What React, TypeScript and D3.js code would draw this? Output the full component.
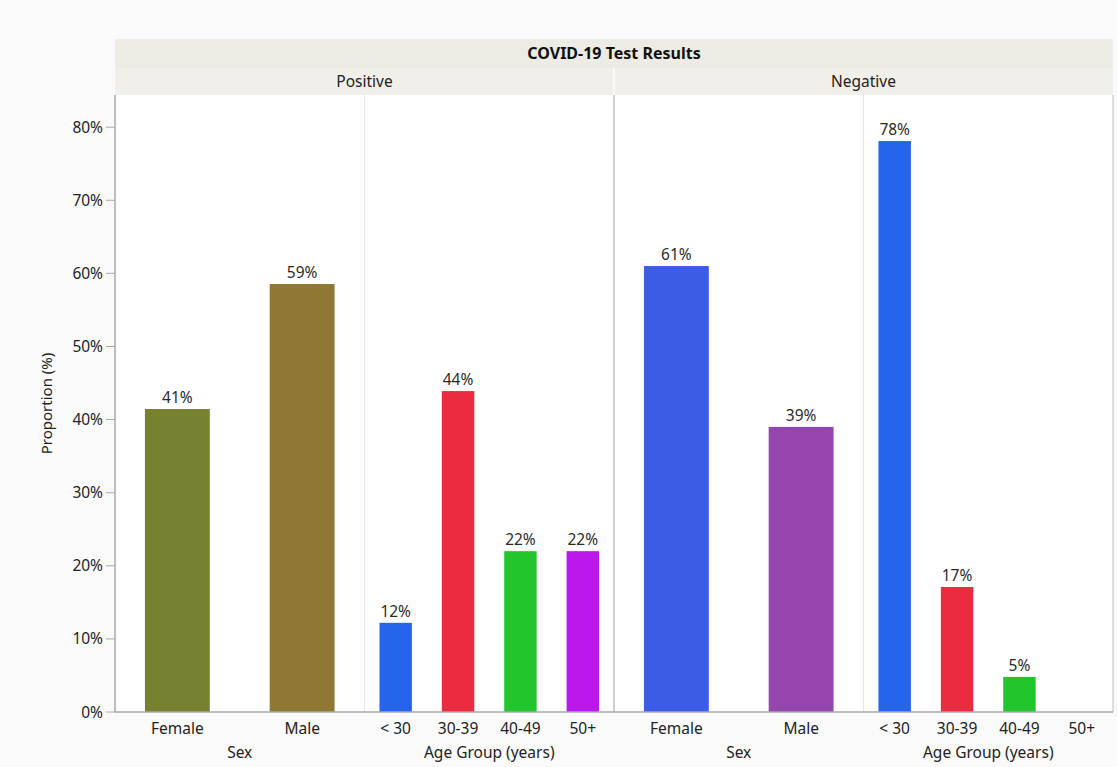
import React from 'react';
import * as d3 from 'd3';

// Chart values (percent of each result group)
const panels = ['Positive', 'Negative'];
const groups = ['Sex', 'Age Group (years)'];
const sexCats = ['Female', 'Male'];
const ageCats = ['< 30', '30-39', '40-49', '50+'];
const positiveSex = [41.45, 58.55];
const positiveAge = [12.2, 43.9, 22.0, 22.0];
const negativeSex = [61.0, 39.0];
const negativeAge = [78.1, 17.1, 4.8, 0];
const yTicks = [0, 10, 20, 30, 40, 50, 60, 70, 80];

const sexColors = [['#768230', '#8e7834'], ['#3b5ce4', '#9446ae']];
const ageColors = ['#2565ee', '#ea2b40', '#22c52c', '#bb18ee'];

const W = 1117;
const H = 767;
const plot = { left: 115, right: 1113, top: 95, bottom: 712 };
const font = '"Noto Sans", "Open Sans", sans-serif';

export default function App() {
  const x = d3.scaleBand<string>().domain(panels).range([plot.left, plot.right]);
  const g = d3.scaleBand<string>().domain(groups).range([0, x.bandwidth()]);
  const y = d3.scaleLinear().domain([0, 84.4]).range([plot.bottom, plot.top]);

  const sexX = d3.scaleBand<string>().domain(sexCats).range([0, g.bandwidth()]).paddingInner(0.48).paddingOuter(0.24);
  const ageX = d3.scaleBand<string>().domain(ageCats).range([0, g.bandwidth()]).paddingInner(0.48).paddingOuter(0.24);

  const panelData = [
    { name: 'Positive', sex: positiveSex, age: positiveAge, sexCol: sexColors[0] },
    { name: 'Negative', sex: negativeSex, age: negativeAge, sexCol: sexColors[1] },
  ];

  const bar = (key: string, bx: number, bw: number, v: number, col: string) => (
    <g key={key}>
      {v > 0 && (
        <rect x={bx} y={y(v)} width={bw} height={plot.bottom - y(v)} fill={col} />
      )}
      {v > 0 && (
        <text x={bx + bw / 2} y={y(v) - 6} textAnchor="middle" fontSize={15.5} fill="#2a2a2a">
          {`${Math.round(v)}%`}
        </text>
      )}
    </g>
  );

  return (
    <svg width={W} height={H} style={{ position: 'absolute', left: 0, top: 0, fontFamily: font }}>
      <rect x={0} y={0} width={W} height={H} fill="#fafafa" />
      {/* header bands */}
      <rect x={plot.left} y={39} width={plot.right - plot.left} height={29} fill="#ecebe4" />
      <rect x={plot.left} y={68} width={plot.right - plot.left} height={27} fill="#f0efe9" />
      <text x={(plot.left + plot.right) / 2} y={59} textAnchor="middle" fontSize={16} fontWeight="bold" fill="#111">
        COVID-19 Test Results
      </text>
      {panels.map(p => (
        <text key={p} x={(x(p) as number) + x.bandwidth() / 2} y={87} textAnchor="middle" fontSize={15.5} fill="#222">
          {p}
        </text>
      ))}
      <line x1={x('Negative')} x2={x('Negative')} y1={68} y2={95} stroke="#fafaf7" strokeWidth={2} />
      {/* plot area */}
      <rect x={plot.left} y={plot.top} width={plot.right - plot.left} height={plot.bottom - plot.top} fill="#fff" />
      {panelData.map(pd => {
        const px = x(pd.name) as number;
        const sx = px + (g('Sex') as number);
        const ax = px + (g('Age Group (years)') as number);
        return (
          <g key={pd.name}>
            <line x1={ax} x2={ax} y1={plot.top} y2={plot.bottom} stroke="#e6e6e6" />
            {sexCats.map((c, i) =>
              bar(pd.name + c, sx + (sexX(c) as number), sexX.bandwidth(), pd.sex[i], pd.sexCol[i])
            )}
            {ageCats.map((c, i) =>
              bar(pd.name + c, ax + (ageX(c) as number), ageX.bandwidth(), pd.age[i], ageColors[i])
            )}
            {sexCats.map(c => (
              <text key={c} x={sx + (sexX(c) as number) + sexX.bandwidth() / 2} y={734} textAnchor="middle" fontSize={15.5} fill="#222">
                {c}
              </text>
            ))}
            {ageCats.map(c => (
              <text key={c} x={ax + (ageX(c) as number) + ageX.bandwidth() / 2} y={734} textAnchor="middle" fontSize={15.5} fill="#222">
                {c}
              </text>
            ))}
            <text x={sx + g.bandwidth() / 2} y={758} textAnchor="middle" fontSize={15.5} fill="#222">Sex</text>
            <text x={ax + g.bandwidth() / 2} y={758} textAnchor="middle" fontSize={15.5} fill="#222">Age Group (years)</text>
          </g>
        );
      })}
      <line x1={x('Negative')} x2={x('Negative')} y1={plot.top} y2={plot.bottom} stroke="#cfcfcf" strokeWidth={2} />
      <line x1={plot.right} x2={plot.right} y1={plot.top} y2={plot.bottom} stroke="#bdbdbd" />
      {/* y axis */}
      <line x1={plot.left} x2={plot.left} y1={plot.top} y2={plot.bottom} stroke="#a8a8a8" strokeWidth={1.5} />
      <line x1={plot.left} x2={plot.right} y1={plot.bottom} y2={plot.bottom} stroke="#a8a8a8" strokeWidth={1.5} />
      {yTicks.map(t => (
        <g key={t}>
          <line x1={106} x2={plot.left} y1={y(t)} y2={y(t)} stroke="#a8a8a8" />
          <text x={103} y={y(t) + 5.5} textAnchor="end" fontSize={15.5} fill="#222">{`${t}%`}</text>
        </g>
      ))}
      <text transform={`translate(52,${(plot.top + plot.bottom) / 2}) rotate(-90)`} textAnchor="middle" fontSize={15} fill="#222">
        Proportion (%)
      </text>
    </svg>
  );
}
